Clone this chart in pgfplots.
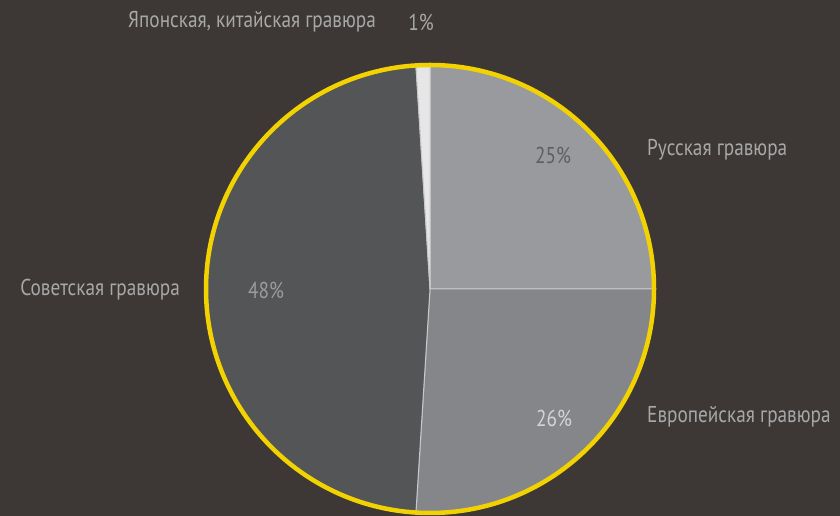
\documentclass[border=0pt]{standalone}
\usepackage{pgfplots}
\pgfplotsset{compat=1.18}
\usepackage{fontspec}
\setmainfont[FakeStretch=0.84]{PT Sans}
\definecolor{bg}{RGB}{61,56,53}
\definecolor{cRus}{RGB}{153,154,157}
\definecolor{cEur}{RGB}{133,134,137}
\definecolor{cSov}{RGB}{84,85,87}
\definecolor{cJap}{RGB}{230,230,231}
\definecolor{sep}{RGB}{200,200,202}
\definecolor{ring}{RGB}{242,210,0}
\definecolor{lab}{RGB}{168,168,170}
% data (percent)
\def\vRus{25}
\def\vEur{26}
\def\vSov{48}
\def\vJap{1}
\pgfmathsetmacro{\aA}{90}
\pgfmathsetmacro{\aB}{\aA-3.6*\vRus}
\pgfmathsetmacro{\aC}{\aB-3.6*\vEur}
\pgfmathsetmacro{\aD}{\aC-3.6*\vSov}
\pgfmathsetmacro{\aE}{\aD-3.6*\vJap}
\def\R{224}
\begin{document}
\begin{tikzpicture}
\begin{axis}[
  x=1bp, y=1bp, xmin=0, xmax=840, ymin=0, ymax=516,
  hide axis, scale only axis, clip=false,
  font=\fontsize{23}{26}\selectfont,
]
\fill[bg] (axis cs:0,0) rectangle (axis cs:840,516);
\fill[cRus, draw=sep, line width=1bp] (axis cs:430,227) -- ++(\aA:\R bp) arc[start angle=\aA, end angle=\aB, radius=\R bp] -- cycle;
\fill[cEur, draw=sep, line width=1bp] (axis cs:430,227) -- ++(\aB:\R bp) arc[start angle=\aB, end angle=\aC, radius=\R bp] -- cycle;
\fill[cSov, draw=sep, line width=1bp] (axis cs:430,227) -- ++(\aC:\R bp) arc[start angle=\aC, end angle=\aD, radius=\R bp] -- cycle;
\fill[cJap, draw=sep, line width=1bp] (axis cs:430,227) -- ++(\aD:\R bp) arc[start angle=\aD, end angle=\aE, radius=\R bp] -- cycle;
\draw[ring, line width=4.5bp] (axis cs:430,227) circle[radius=\R bp];
% labels
\node[anchor=east, text=lab, inner sep=0pt] at (axis cs:376,494) {Японская, китайская гравюра};
\node[text=lab, inner sep=0pt] at (axis cs:421,494) {\vJap\%};
\node[text={rgb,255:red,94;green,95;blue,97}, inner sep=0pt] at (axis cs:553,361) {\vRus\%};
\node[anchor=west, text=lab, inner sep=0pt] at (axis cs:647,366) {Русская гравюра};
\node[text={rgb,255:red,155;green,156;blue,158}, inner sep=0pt] at (axis cs:266,226) {\vSov\%};
\node[anchor=east, text=lab, inner sep=0pt] at (axis cs:180,226) {Советская гравюра};
\node[text={rgb,255:red,212;green,212;blue,213}, inner sep=0pt] at (axis cs:554,98) {\vEur\%};
\node[anchor=west, text=lab, inner sep=0pt] at (axis cs:647,99) {Европейская гравюра};
\end{axis}
\end{tikzpicture}
\end{document}
